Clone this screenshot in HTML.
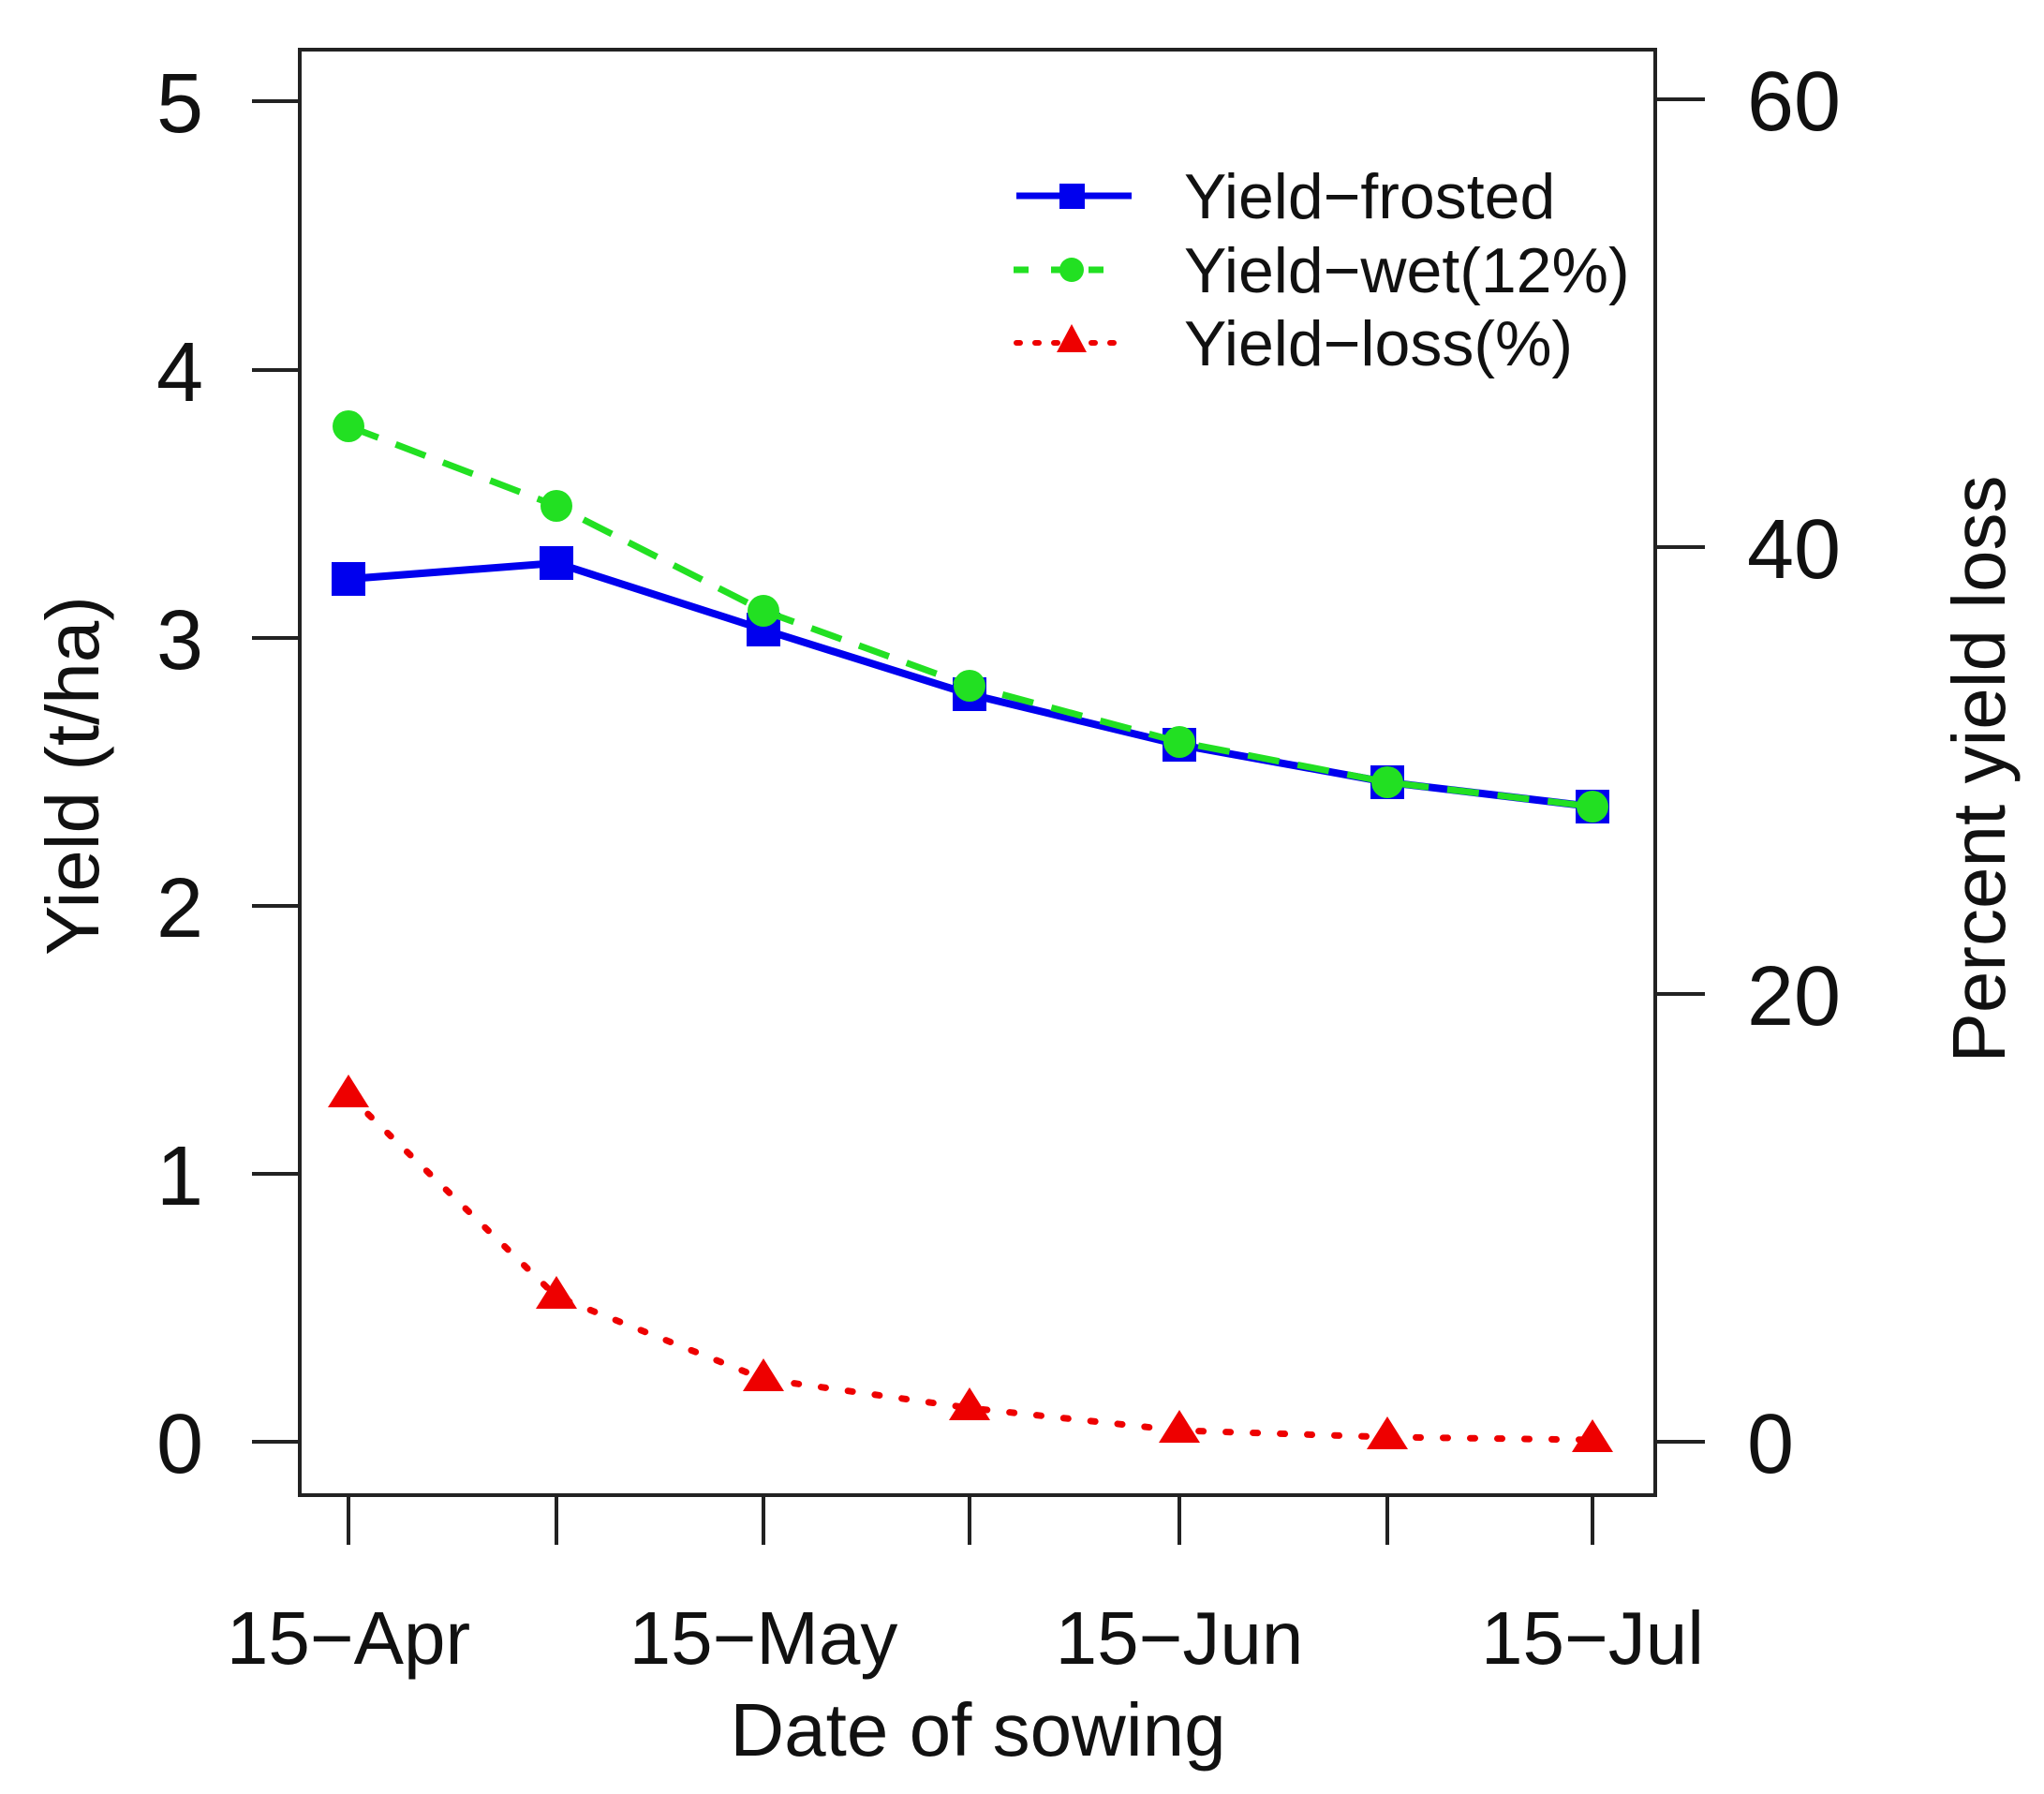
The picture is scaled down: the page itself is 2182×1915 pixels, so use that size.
<!DOCTYPE html>
<html><head><meta charset="utf-8"><style>html,body{margin:0;padding:0;background:#fff}svg{display:block}</style></head>
<body>
<svg width="2182" height="1915" viewBox="0 0 2182 1915" xmlns="http://www.w3.org/2000/svg" font-family="Liberation Sans, Arial, sans-serif">
<rect width="2182" height="1915" fill="#fff"/>
<rect x="320" y="53" width="1447" height="1543" fill="none" stroke="#222" stroke-width="4"/>
<g stroke="#222" stroke-width="4">
<line x1="269" y1="1539" x2="320" y2="1539"/><line x1="269" y1="1253" x2="320" y2="1253"/><line x1="269" y1="967" x2="320" y2="967"/><line x1="269" y1="681" x2="320" y2="681"/><line x1="269" y1="395" x2="320" y2="395"/><line x1="269" y1="108" x2="320" y2="108"/>
<line x1="1767" y1="1539" x2="1820" y2="1539"/><line x1="1767" y1="1061" x2="1820" y2="1061"/><line x1="1767" y1="584" x2="1820" y2="584"/><line x1="1767" y1="106" x2="1820" y2="106"/>
<line x1="372" y1="1596" x2="372" y2="1649"/><line x1="594" y1="1596" x2="594" y2="1649"/><line x1="815" y1="1596" x2="815" y2="1649"/><line x1="1035" y1="1596" x2="1035" y2="1649"/><line x1="1259" y1="1596" x2="1259" y2="1649"/><line x1="1481" y1="1596" x2="1481" y2="1649"/><line x1="1700" y1="1596" x2="1700" y2="1649"/>
</g>
<g font-size="90" fill="#111" text-anchor="middle">
<text x="192" y="1572">0</text><text x="192" y="1286">1</text><text x="192" y="1000">2</text><text x="192" y="714">3</text><text x="192" y="428">4</text><text x="192" y="141">5</text>
</g>
<g font-size="90" fill="#111" text-anchor="start">
<text x="1865" y="1572">0</text><text x="1865" y="1094">20</text><text x="1865" y="617">40</text><text x="1865" y="139">60</text>
</g>
<g font-size="80" fill="#111" text-anchor="middle">
<text x="372" y="1776">15−Apr</text><text x="815" y="1776">15−May</text><text x="1259" y="1776">15−Jun</text><text x="1700" y="1776">15−Jul</text>
</g>
<text x="1044" y="1874" font-size="80" fill="#111" text-anchor="middle">Date of sowing</text>
<text transform="translate(105,828) rotate(-90)" font-size="80" fill="#111" text-anchor="middle">Yield (t/ha)</text>
<text transform="translate(2140,821) rotate(-90)" font-size="80" fill="#111" text-anchor="middle">Percent yield loss</text>
<!-- frosted -->
<polyline points="372,618 594,601 815,672 1035,741 1259,795 1481,835 1700,861" fill="none" stroke="#0000ee" stroke-width="8"/>
<g fill="#0000ee">
<rect x="354" y="600" width="36" height="36"/><rect x="576" y="583" width="36" height="36"/><rect x="797" y="654" width="36" height="36"/><rect x="1017" y="723" width="36" height="36"/><rect x="1241" y="777" width="36" height="36"/><rect x="1463" y="817" width="36" height="36"/><rect x="1682" y="843" width="36" height="36"/>
</g>
<!-- wet -->
<polyline points="372,455 594,540 815,652 1035,732 1259,792 1481,835 1700,861" fill="none" stroke="#22e022" stroke-width="7" stroke-dasharray="34,20"/>
<g fill="#22e022">
<circle cx="372" cy="455" r="17"/><circle cx="594" cy="540" r="17"/><circle cx="815" cy="652" r="17"/><circle cx="1035" cy="732" r="17"/><circle cx="1259" cy="792" r="17"/><circle cx="1481" cy="835" r="17"/><circle cx="1700" cy="861" r="17"/>
</g>
<!-- loss -->
<polyline points="372,1169 594,1384 815,1472 1035,1503 1259,1527 1481,1534 1700,1537" fill="none" stroke="#ee0000" stroke-width="7" stroke-dasharray="5,24" stroke-linecap="round"/>
<g fill="#ee0000">
<polygon points="372,1147 394,1182 350,1182"/><polygon points="594,1362 616,1397 572,1397"/><polygon points="815,1450 837,1485 793,1485"/><polygon points="1035,1481 1057,1516 1013,1516"/><polygon points="1259,1505 1281,1540 1237,1540"/><polygon points="1481,1512 1503,1547 1459,1547"/><polygon points="1700,1515 1722,1550 1678,1550"/>
</g>
<!-- legend -->
<line x1="1085" y1="209" x2="1208" y2="209" stroke="#0000ee" stroke-width="7"/>
<rect x="1131" y="196" width="27" height="27" fill="#0000ee"/>
<line x1="1082" y1="288" x2="1190" y2="288" stroke="#22e022" stroke-width="7" stroke-dasharray="16,24"/>
<circle cx="1144" cy="288" r="13" fill="#22e022"/>
<line x1="1085" y1="366" x2="1200" y2="366" stroke="#ee0000" stroke-width="6" stroke-dasharray="4,16" stroke-linecap="round"/>
<polygon points="1144,346 1160,376 1128,376" fill="#ee0000"/>
<g font-size="68" fill="#111">
<text x="1264" y="233">Yield−frosted</text>
<text x="1264" y="312">Yield−wet(12%)</text>
<text x="1264" y="390">Yield−loss(%)</text>
</g>
</svg>
</body></html>
